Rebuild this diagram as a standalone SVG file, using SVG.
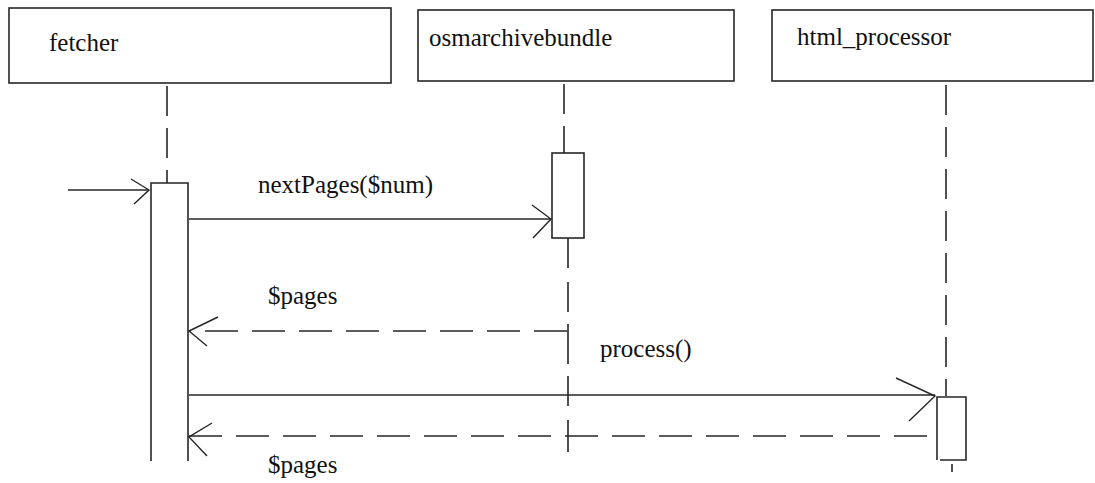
<svg xmlns="http://www.w3.org/2000/svg" width="1095" height="483" viewBox="0 0 1095 483">
<style>
.box{fill:#fff;stroke:#262626;stroke-width:1.6}
.act{fill:#fff;stroke:#262626;stroke-width:1.6}
.life{stroke:#262626;stroke-width:1.6;fill:none;stroke-dasharray:30 12}
.msg{stroke:#262626;stroke-width:1.6;fill:none}
.ret{stroke:#262626;stroke-width:1.6;fill:none;stroke-dasharray:33 14}
.head{stroke:#262626;stroke-width:1.4;fill:none}
.t{font-family:'Liberation Serif','DejaVu Serif',serif;font-size:25px;fill:#111}
</style>
<rect width="1095" height="483" fill="#fff"/>
<g id="lifelines">
<path class="life" d="M167 86V183"/>
<path class="life" d="M564 84V153"/>
<path class="life" d="M568 238V452" style="stroke-dasharray:30 14 30 12 40 12 30 14 26 0"/>
<path class="life" d="M946 85V396"/>
<path class="msg" d="M952 464V472"/>
</g>
<g id="fetcher">
<rect class="box" x="9" y="8" width="382" height="75"/>
<text class="t" font-family="Liberation Serif, serif" x="49" y="51">fetcher</text>
<path class="act" d="M151 461V183H188V461"/>
</g>
<g id="osmarchivebundle">
<rect class="box" x="418" y="10" width="316" height="71"/>
<text class="t" font-family="Liberation Serif, serif" x="429" y="46">osmarchivebundle</text>
<rect class="act" x="552" y="153" width="32" height="85"/>
</g>
<g id="html_processor">
<rect class="box" x="772" y="10" width="321" height="71"/>
<text class="t" font-family="Liberation Serif, serif" x="797" y="45">html_processor</text>
<path class="act" d="M937 460V397H966V460H940"/>
</g>
<g id="connectors">
<path class="msg" d="M68 190H149"/>
<path class="head" d="M131 179L149 190L134 204"/>
<path class="msg" d="M189 219H551"/>
<path class="head" d="M532 205L551 219L533 238"/>
<text class="t" font-family="Liberation Serif, serif" x="258" y="193">nextPages($num)</text>
<path class="ret" d="M567 331H189"/>
<path class="head" d="M218 317L189 331L207 346"/>
<text class="t" font-family="Liberation Serif, serif" x="268" y="304">$pages</text>
<path class="msg" d="M189 395H935"/>
<path class="head" d="M896 378L935 396L909 421"/>
<text class="t" font-family="Liberation Serif, serif" x="600" y="357">process()</text>
<path class="ret" d="M927 436H189"/>
<path class="head" d="M212 423L189 437L207 456"/>
<text class="t" font-family="Liberation Serif, serif" x="268" y="473">$pages</text>
</g>
</svg>
